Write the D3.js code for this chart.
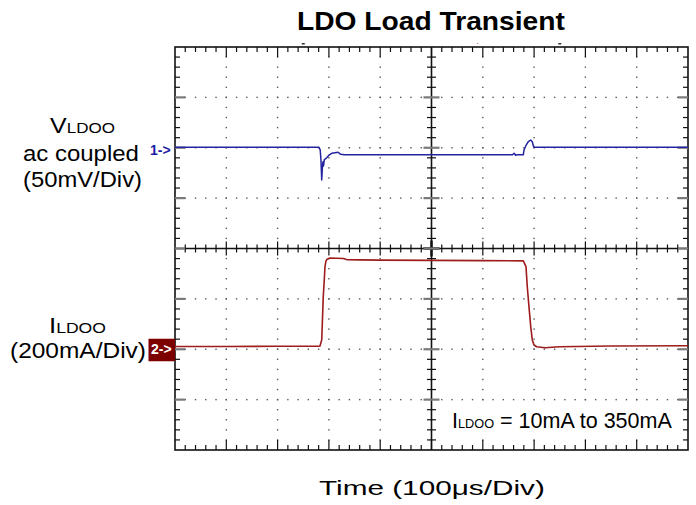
<!DOCTYPE html>
<html>
<head>
<meta charset="utf-8">
<script src="https://cdn.jsdelivr.net/npm/d3@7"></script>
<style>
  html, body { margin: 0; padding: 0; background: #ffffff; }
  svg { display: block; }
  text { font-family: "Liberation Sans", Arial, Helvetica, sans-serif; }
</style>
</head>
<body>
<svg id="chart" width="696" height="505"></svg>
<script>
// ---- Screen divisions ----------------------------------------------------
// Horizontal: 10 divisions at 100 µs/div; vertical: 8 divisions.
const timeMajor = d3.range(0, 1001, 100);   // µs
const timeMinor = d3.range(0, 1001, 20);    // µs (5 sub-divisions)
const divMajor = d3.range(0, 9, 1);          // vertical divisions
const divMinor = d3.range(0, 8.01, 0.2);

// ---- Channel 1: LDO output voltage, ac coupled, 50 mV/div ----------------
const vTime = [0, 100, 200, 280.7, 283, 284.5, 286, 287.5, 288.5, 289.5, 291, 293, 295.7,
               300.8, 305.5, 312, 318, 323, 330, 400, 500, 600, 658, 661, 664, 667, 679,
               680.3, 684, 688.7, 693.4, 696.5, 698.4, 700.4, 800, 900, 1000];
const vValue = [0.4, 0.4, 0.4, 0.4, -2, -12, -32, -18, -14, -18, -12, -11, -10,
                -7, -5.5, -5, -4.5, -6.5, -7, -7, -7, -7, -7, -5.5, -7.5, -7, -7,
                -2.2, 2, 6, 7.7, 6, 2, 0.4, 0.4, 0.4, 0.4];

// ---- Channel 2: LDO output current, 200 mA/div ----------------------------
const iTime = [0, 100, 200, 280, 282.6, 286, 287.9, 289, 291, 292.4, 294, 295.7, 302,
               328, 334.7, 360, 400, 500, 600, 679, 684.2, 686.7, 690, 693.4, 696.5,
               699.8, 705, 721, 750, 850, 1000];
const iValue = [11, 11, 12, 12, 13, 37, 143, 209, 275, 328, 348, 356, 362,
                360, 356, 355, 354, 353, 352, 351, 328, 248, 169, 90, 37,
                17, 10, 6, 10, 13, 14];

// ---- Text -----------------------------------------------------------------
const titleText = "LDO Load Transient";
const xAxisText = "Time (100\u03BCs/Div)";
const ch1Label = [["V", "LDOO"], ["ac coupled"], ["(50mV/Div)"]];
const ch2Label = [["I", "LDOO"], ["(200mA/Div)"]];
const noteText = ["I", "LDOO", " = 10mA to 350mA"];

// ---- Geometry ---------------------------------------------------------------
const plotLeft = 175, plotRight = 688, plotTop = 47, plotBottom = 450;

const x = d3.scaleLinear().domain([0, 1000]).range([plotLeft, plotRight]);
const yDiv = d3.scaleLinear().domain([0, 8]).range([plotBottom, plotTop]);
const y1 = d3.scaleLinear().domain([-300, 100]).range([plotBottom, plotTop]);   // mV
const y2 = d3.scaleLinear().domain([-400, 1200]).range([plotBottom, plotTop]);  // mA

const svg = d3.select("#chart");
const cx = x(500), cy = yDiv(4);

// ---- Dotted graticule ------------------------------------------------------
const dots = svg.append("g").attr("fill", "#5a5a5a");
timeMajor.filter(t => t > 0 && t < 1000 && t !== 500).forEach(t => {
  divMinor.filter(d => d > 0.05 && d < 7.95).forEach(d => {
    dots.append("rect").attr("x", x(t) - 0.7).attr("y", yDiv(d) - 0.7)
      .attr("width", 1.4).attr("height", 1.4);
  });
});
divMajor.filter(d => d > 0 && d < 8 && d !== 4).forEach(d => {
  timeMinor.filter(t => t > 1 && t < 999).forEach(t => {
    dots.append("rect").attr("x", x(t) - 0.7).attr("y", yDiv(d) - 0.7)
      .attr("width", 1.4).attr("height", 1.4);
  });
});

// ---- Frame, centre axes and tick marks -------------------------------------
const frame = svg.append("g").attr("stroke", "#111").attr("stroke-width", 1.2).attr("fill", "none");
frame.append("rect").attr("x", plotLeft).attr("y", plotTop)
  .attr("width", plotRight - plotLeft).attr("height", plotBottom - plotTop).attr("stroke-width", 1.6);
frame.append("line").attr("x1", cx).attr("x2", cx).attr("y1", plotTop).attr("y2", plotBottom).attr("stroke-width", 1.6);
frame.append("line").attr("x1", plotLeft).attr("x2", plotRight).attr("y1", cy).attr("y2", cy).attr("stroke-width", 1.6);

const isMajorT = t => Math.abs(t / 100 - Math.round(t / 100)) < 1e-6;
const isMajorD = d => Math.abs(d - Math.round(d)) < 1e-6;

// top / bottom edges and horizontal centre line
timeMinor.filter(t => t > 0 && t < 1000).forEach(t => {
  const len = isMajorT(t) ? 10 : 5;
  frame.append("line").attr("x1", x(t)).attr("x2", x(t)).attr("y1", plotTop).attr("y2", plotTop + len);
  frame.append("line").attr("x1", x(t)).attr("x2", x(t)).attr("y1", plotBottom).attr("y2", plotBottom - len);
  const half = isMajorT(t) ? 7 : 4;
  frame.append("line").attr("x1", x(t)).attr("x2", x(t)).attr("y1", cy - half).attr("y2", cy + half);
});

// left / right edges and vertical centre line
const grey = svg.append("g").attr("stroke", "#7a7a7a").attr("stroke-width", 2.2);
divMinor.filter(d => d > 0.05 && d < 7.95).forEach(d => {
  const yy = yDiv(d);
  if (isMajorD(d)) {
    grey.append("line").attr("x1", plotLeft).attr("x2", plotLeft + 10).attr("y1", yy).attr("y2", yy);
    grey.append("line").attr("x1", plotRight - 10).attr("x2", plotRight).attr("y1", yy).attr("y2", yy);
    grey.append("line").attr("x1", cx - 8).attr("x2", cx + 8).attr("y1", yy).attr("y2", yy);
  } else {
    frame.append("line").attr("x1", plotLeft).attr("x2", plotLeft + 5).attr("y1", yy).attr("y2", yy);
    frame.append("line").attr("x1", plotRight - 5).attr("x2", plotRight).attr("y1", yy).attr("y2", yy);
    frame.append("line").attr("x1", cx - 4.5).attr("x2", cx + 4.5).attr("y1", yy).attr("y2", yy);
  }
});
// centre cross
frame.append("line").attr("x1", cx - 8).attr("x2", cx + 8).attr("y1", cy).attr("y2", cy).attr("stroke-width", 2.4);
frame.append("line").attr("x1", cx).attr("x2", cx).attr("y1", cy - 8).attr("y2", cy + 8).attr("stroke-width", 2.4);

// small trigger position marks above the frame
svg.append("rect").attr("x", x(250) - 1.5).attr("y", plotTop - 4).attr("width", 3).attr("height", 1.5).attr("fill", "#333");
svg.append("rect").attr("x", x(750) - 1.5).attr("y", plotTop - 4).attr("width", 3).attr("height", 1.5).attr("fill", "#333");
svg.append("rect").attr("x", x(590) - 0.5).attr("y", plotTop - 4).attr("width", 1).attr("height", 1).attr("fill", "#b06060");

// ---- Traces ----------------------------------------------------------------
const vLine = d3.line().x((d, i) => x(vTime[i])).y(d => y1(d));
const iLine = d3.line().x((d, i) => x(iTime[i])).y(d => y2(d));

svg.append("path").datum(iValue).attr("d", iLine)
  .attr("fill", "none").attr("stroke", "#9e1c1c").attr("stroke-width", 1.6)
  .attr("stroke-linejoin", "round");
svg.append("path").datum(vValue).attr("d", vLine)
  .attr("fill", "none").attr("stroke", "#2424a0").attr("stroke-width", 1.5)
  .attr("stroke-linejoin", "round");

// ---- Channel markers -------------------------------------------------------
svg.append("text").attr("x", 150).attr("y", y1(0) + 7)
  .attr("font-size", 14).attr("font-weight", "bold").attr("fill", "#1c1ca8").text("1->");
svg.append("rect").attr("x", 148.5).attr("y", y2(0) - 10.5).attr("width", 26.5).attr("height", 22.5)
  .attr("fill", "#7d0000");
svg.append("text").attr("x", 151).attr("y", y2(0) + 5)
  .attr("font-size", 14).attr("font-weight", "bold").attr("fill", "#ffffff").text("2->");

// ---- Text labels, each fitted to a measured width -----------------------------
function fitted(parts, xLeft, baseline, width, opts = {}) {
  const g = svg.append("g");
  const t = g.append("text").attr("x", 0).attr("y", 0).attr("fill", "#000");
  if (opts.bold) t.attr("font-weight", "bold");
  parts.forEach(p => t.append("tspan").attr("font-size", p.size).text(p.text));
  const w = t.node().getComputedTextLength();
  g.attr("transform", `translate(${xLeft},${baseline}) scale(${width / w},1)`);
  return g;
}
const big = 22, small = 15;

fitted([{ text: titleText, size: 26 }], 297, 30, 268, { bold: true });
fitted([{ text: xAxisText, size: 20 }], 319, 495, 226);

fitted([{ text: ch1Label[0][0], size: big }, { text: ch1Label[0][1], size: small }], 50, 133, 65);
fitted([{ text: ch1Label[1][0], size: big }], 23, 161, 116);
fitted([{ text: ch1Label[2][0], size: big }], 23, 187, 119);
fitted([{ text: ch2Label[0][0], size: big }, { text: ch2Label[0][1], size: small }], 49, 333, 57);
fitted([{ text: ch2Label[1][0], size: big }], 10, 358, 136);

// load step annotation on a white backing
svg.append("rect").attr("x", 448).attr("y", 408).attr("width", 228).attr("height", 26).attr("fill", "#fff");
fitted([{ text: noteText[0], size: big }, { text: noteText[1], size: 13 }, { text: noteText[2], size: big }],
  452, 428, 220);
</script>
</body>
</html>
